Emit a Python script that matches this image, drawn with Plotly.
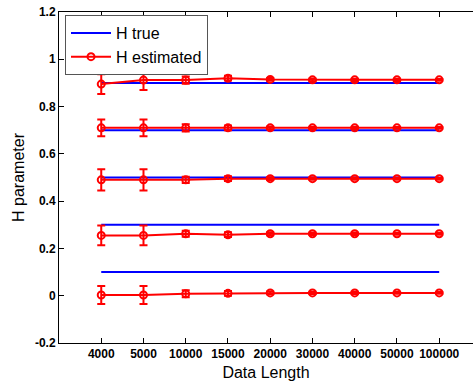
import plotly.graph_objects as go

lengths = ["4000", "5000", "10000", "15000", "20000", "30000", "40000", "50000", "100000"]
h_true = [0.1, 0.3, 0.5, 0.7, 0.9]

est_01 = [0.003, 0.003, 0.008, 0.010, 0.012, 0.012, 0.012, 0.012, 0.012]
err_01 = [0.038, 0.038, 0.015, 0.010, 0.006, 0.005, 0.005, 0.004, 0.004]
est_03 = [0.255, 0.255, 0.262, 0.258, 0.262, 0.262, 0.262, 0.262, 0.262]
err_03 = [0.042, 0.042, 0.013, 0.010, 0.006, 0.005, 0.005, 0.004, 0.004]
est_05 = [0.490, 0.490, 0.490, 0.495, 0.495, 0.495, 0.495, 0.495, 0.495]
err_05 = [0.045, 0.045, 0.013, 0.010, 0.006, 0.005, 0.005, 0.004, 0.004]
est_07 = [0.710, 0.710, 0.710, 0.710, 0.710, 0.710, 0.710, 0.710, 0.710]
err_07 = [0.035, 0.035, 0.015, 0.010, 0.006, 0.005, 0.005, 0.004, 0.004]
est_09 = [0.895, 0.912, 0.912, 0.920, 0.915, 0.913, 0.913, 0.913, 0.913]
err_09 = [0.042, 0.042, 0.015, 0.010, 0.006, 0.006, 0.005, 0.005, 0.004]

estimates = [est_01, est_03, est_05, est_07, est_09]
errors = [err_01, err_03, err_05, err_07, err_09]

fig = go.Figure()

for i, h in enumerate(h_true):
    fig.add_trace(go.Scatter(
        x=lengths, y=[h] * len(lengths), mode="lines",
        line=dict(color="#0000FF", width=2),
        name="H true", showlegend=(i == 0), legendgroup="true",
    ))

for i, (est, err) in enumerate(zip(estimates, errors)):
    fig.add_trace(go.Scatter(
        x=lengths, y=est, mode="lines+markers",
        line=dict(color="#FF0000", width=2),
        marker=dict(symbol="circle-open", size=7, color="#FF0000", line=dict(width=2)),
        error_y=dict(type="data", array=err, visible=True, color="#FF0000", thickness=2, width=4),
        name="H estimated", showlegend=(i == 0), legendgroup="est",
    ))

fig.update_layout(
    width=473, height=385,
    margin=dict(l=59, r=0, t=12, b=42),
    plot_bgcolor="white", paper_bgcolor="white",
    font=dict(family="Liberation Sans, Arial, sans-serif", color="black"),
    legend=dict(
        x=0.0145, y=0.991, xanchor="left", yanchor="top",
        bgcolor="white", bordercolor="#555555", borderwidth=1,
        font=dict(size=16), tracegroupgap=0, itemwidth=40,
    ),
    showlegend=True,
)

fig.update_xaxes(
    type="category", range=[-1, 8.8],
    showline=True, linecolor="black", linewidth=1, mirror="ticks",
    ticks="inside", ticklen=5, tickcolor="black",
    showgrid=False, zeroline=False,
    tickfont=dict(size=12, weight="bold"),
    title=dict(text="Data Length", font=dict(size=16), standoff=6),
)
fig.update_yaxes(
    range=[-0.2, 1.2], dtick=0.2,
    tickvals=[-0.2, 0, 0.2, 0.4, 0.6, 0.8, 1.0, 1.2],
    ticktext=["-0.2", "0", "0.2", "0.4", "0.6", "0.8", "1", "1.2"],
    showline=True, linecolor="black", linewidth=1,
    ticks="inside", ticklen=5, tickcolor="black",
    showgrid=False, zeroline=False,
    tickfont=dict(size=12, weight="bold"),
    title=dict(text="H parameter", font=dict(size=16), standoff=6),
)

fig.write_html("out.html")
